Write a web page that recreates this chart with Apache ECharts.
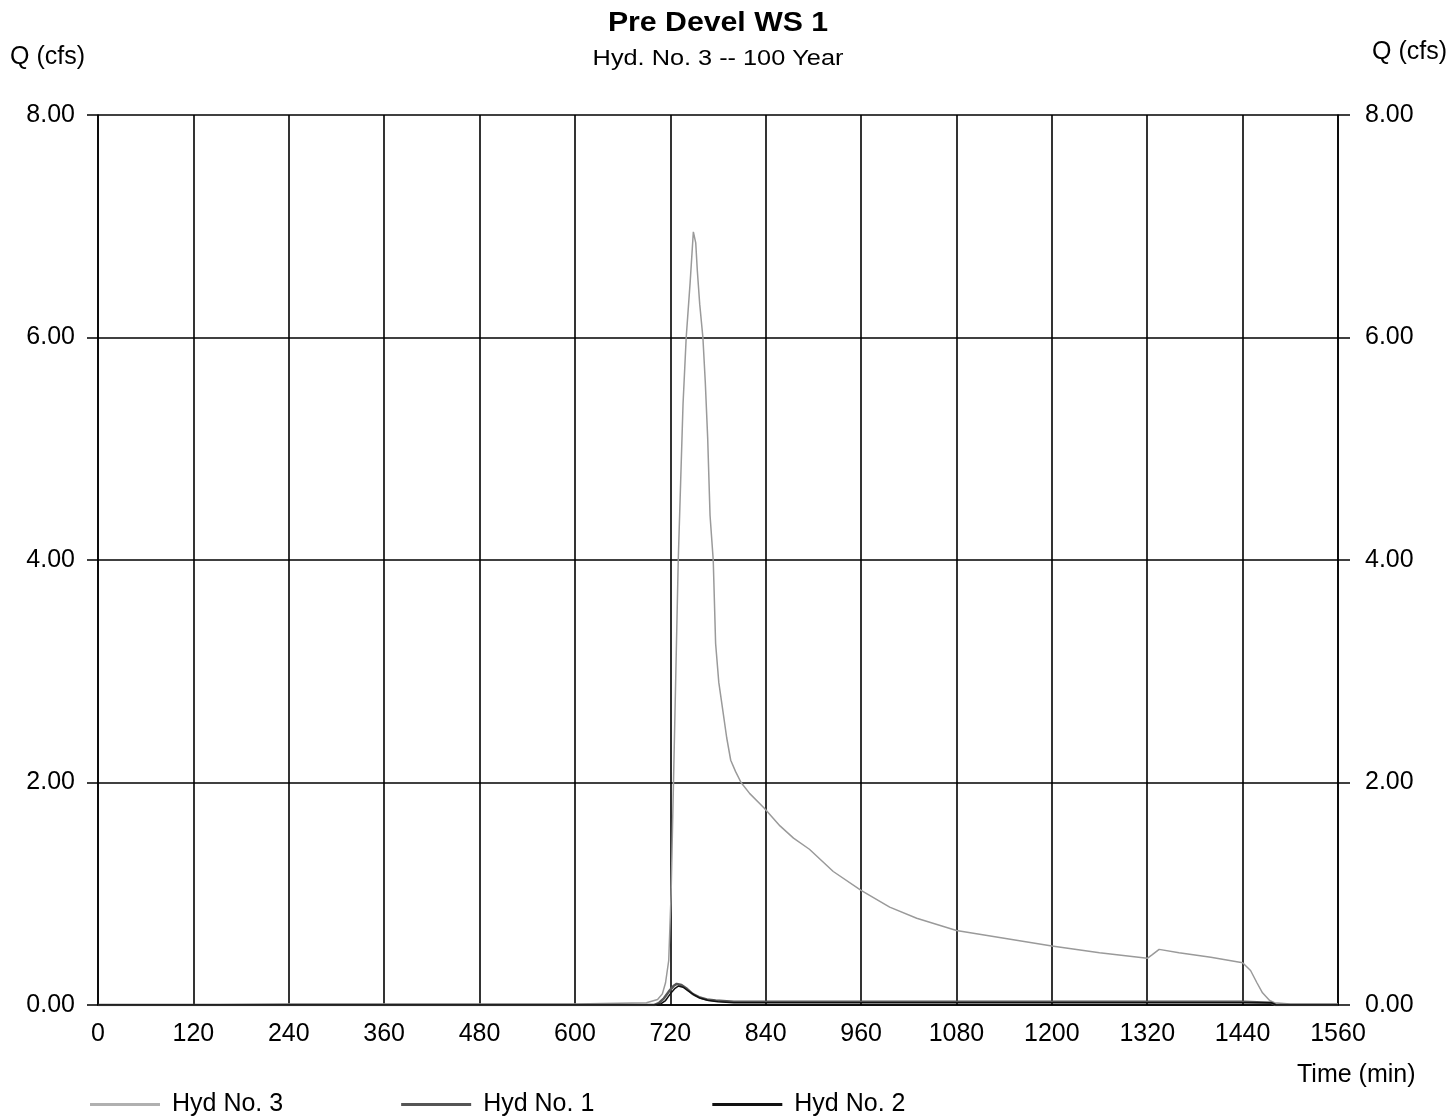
<!DOCTYPE html>
<html>
<head>
<meta charset="utf-8">
<script src="https://cdn.jsdelivr.net/npm/echarts@6/dist/echarts.min.js"></script>
<style>
html,body{margin:0;padding:0;background:#fff;}
#chart{width:1454px;height:1117px;}
</style>
</head>
<body>
<div id="chart"></div>
<script>
// Time (min) and Q (cfs)
var timeTicks = [0, 120, 240, 360, 480, 600, 720, 840, 960, 1080, 1200, 1320, 1440, 1560];
var qTicks = [0, 2, 4, 6, 8];

var hyd3Time = [0, 120, 240, 360, 480, 600, 690, 704, 710, 714, 718, 721, 724, 727, 730, 733, 736, 740, 745, 749, 752, 754, 757, 761, 764, 767, 770, 774, 777, 781, 786, 791, 796, 802, 809, 820, 838, 858, 875, 895, 925, 960, 996, 1030, 1080, 1140, 1200, 1260, 1320, 1326, 1335, 1360, 1400, 1440, 1450, 1458, 1465, 1474, 1480, 1500, 1560];
var hyd3Q    = [0.0, 0.0, 0.01, 0.01, 0.01, 0.01, 0.02, 0.05, 0.1, 0.2, 0.4, 1.0, 2.0, 3.0, 4.0, 4.7, 5.4, 6.0, 6.5, 6.95, 6.85, 6.6, 6.3, 6.0, 5.6, 5.1, 4.4, 4.0, 3.25, 2.9, 2.65, 2.4, 2.2, 2.1, 2.0, 1.9, 1.77, 1.61, 1.5, 1.4, 1.2, 1.03, 0.88, 0.78, 0.67, 0.6, 0.53, 0.47, 0.42, 0.45, 0.5, 0.47, 0.43, 0.38, 0.31, 0.2, 0.11, 0.04, 0.02, 0.01, 0.01];

var hyd1Time = [0, 600, 700, 706, 712, 718, 724, 728, 734, 740, 748, 756, 766, 777, 800, 900, 1100, 1300, 1440, 1476, 1482, 1560];
var hyd1Q    = [0.0, 0.0, 0.0, 0.02, 0.06, 0.12, 0.17, 0.19, 0.18, 0.15, 0.1, 0.07, 0.05, 0.04, 0.03, 0.03, 0.03, 0.03, 0.03, 0.02, 0.0, 0.0];

var hyd2Time = [0, 600, 700, 708, 714, 720, 726, 730, 736, 742, 750, 758, 768, 780, 800, 900, 1100, 1300, 1440, 1476, 1482, 1560];
var hyd2Q    = [0.0, 0.0, 0.0, 0.01, 0.04, 0.1, 0.15, 0.17, 0.16, 0.13, 0.09, 0.06, 0.04, 0.03, 0.02, 0.02, 0.02, 0.02, 0.02, 0.02, 0.0, 0.0];

function pairs(t, q) { return t.map(function (v, i) { return [v, q[i]]; }); }

var FONT = '"Liberation Sans", Arial, sans-serif';
var chart = echarts.init(document.getElementById('chart'));
chart.setOption({
  animation: false,
  backgroundColor: '#fff',
  textStyle: { fontFamily: FONT, color: '#000' },
  grid: { left: 98, right: 116, top: 115, bottom: 112, show: false },
  legend: {
    left: 85, top: 1087,
    icon: 'rect',
    itemWidth: 70, itemHeight: 3, itemGap: 118,
    textStyle: { fontFamily: FONT, fontSize: 25, color: '#000', padding: [0, 0, 0, 7] },
    data: [
      { name: 'Hyd No. 3', itemStyle: { color: '#b0b0b0' } },
      { name: 'Hyd No. 1', itemStyle: { color: '#555' } },
      { name: 'Hyd No. 2', itemStyle: { color: '#111' } }
    ]
  },
  xAxis: {
    type: 'value', min: 0, max: 1560, interval: 120,
    axisLine: { show: true, lineStyle: { color: '#000', width: 1.5 } },
    axisTick: { show: false },
    axisLabel: { fontFamily: FONT, fontSize: 25, color: '#000', margin: 17,
      formatter: function (v) { return String(v); } },
    splitLine: { show: true, lineStyle: { color: '#000', width: 1.6 } }
  },
  yAxis: [
    {
      type: 'value', min: 0, max: 8, interval: 2, position: 'left',
      axisLine: { show: true, lineStyle: { color: '#000', width: 1.5 } },
      axisTick: { show: true, length: 11, lineStyle: { color: '#000', width: 1.5 } },
      axisLabel: { fontFamily: FONT, fontSize: 25, color: '#000', margin: 23,
        formatter: function (v) { return v.toFixed(2); } },
      splitLine: { show: true, lineStyle: { color: '#000', width: 1.6 } }
    },
    {
      type: 'value', min: 0, max: 8, interval: 2, position: 'right',
      axisLine: { show: true, lineStyle: { color: '#000', width: 1.5 } },
      axisTick: { show: true, length: 12, lineStyle: { color: '#000', width: 1.5 } },
      axisLabel: { fontFamily: FONT, fontSize: 25, color: '#000', margin: 27,
        formatter: function (v) { return v.toFixed(2); } },
      splitLine: { show: false }
    }
  ],
  series: [
    {
      name: 'Hyd No. 3', type: 'line', symbol: 'none', z: 3,
      lineStyle: { color: '#9a9a9a', width: 1.5 },
      itemStyle: { color: '#9a9a9a' },
      data: pairs(hyd3Time, hyd3Q)
    },
    {
      name: 'Hyd No. 1', type: 'line', symbol: 'none', z: 4,
      lineStyle: { color: '#555', width: 2.5 },
      itemStyle: { color: '#555' },
      data: pairs(hyd1Time, hyd1Q)
    },
    {
      name: 'Hyd No. 2', type: 'line', symbol: 'none', z: 5,
      lineStyle: { color: '#111', width: 1.5 },
      itemStyle: { color: '#111' },
      data: pairs(hyd2Time, hyd2Q)
    }
  ],
  graphic: [
    { type: 'text', x: 718, y: 24, scaleX: 1.12, originX: 0, originY: 0,
      style: { text: 'Pre Devel WS 1', font: 'bold 27px ' + FONT, fill: '#000',
        textAlign: 'center', textVerticalAlign: 'middle' } },
    { type: 'text', x: 718, y: 59, scaleX: 1.15, originX: 0, originY: 0,
      style: { text: 'Hyd. No. 3 -- 100 Year', font: '22px ' + FONT, fill: '#000',
        textAlign: 'center', textVerticalAlign: 'middle' } },
    { type: 'text', x: 10, y: 57,
      style: { text: 'Q (cfs)', font: '25px ' + FONT, fill: '#000', textVerticalAlign: 'middle' } },
    { type: 'text', x: 1372, y: 52,
      style: { text: 'Q (cfs)', font: '25px ' + FONT, fill: '#000', textVerticalAlign: 'middle' } },
    { type: 'text', x: 1297, y: 1075,
      style: { text: 'Time (min)', font: '25px ' + FONT, fill: '#000', textVerticalAlign: 'middle' } }
  ]
});
</script>
</body>
</html>
